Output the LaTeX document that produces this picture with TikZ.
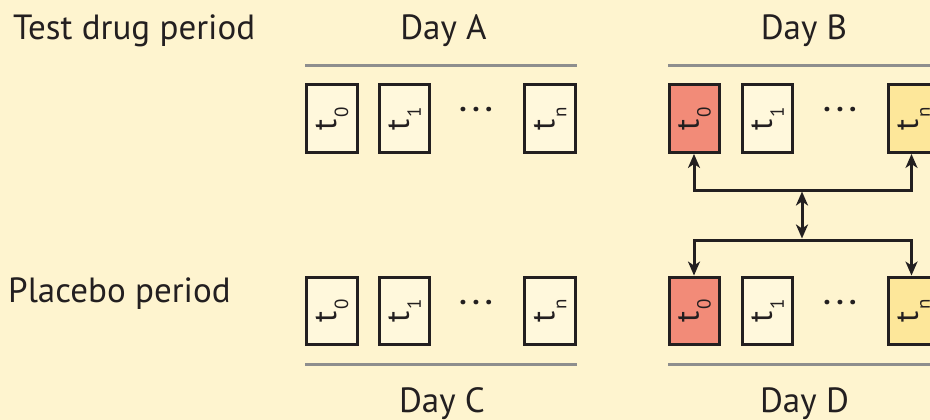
\documentclass[tikz,border=0pt]{standalone}
\usepackage{fontspec}
\setmainfont{PT Sans}
\usetikzlibrary{arrows.meta}
\definecolor{bg}{HTML}{FEF4CF}
\definecolor{boxfill}{HTML}{FFF8DC}
\definecolor{redfill}{HTML}{F28B78}
\definecolor{yelfill}{HTML}{FDE79A}
\definecolor{ink}{HTML}{231F20}
\definecolor{rule}{HTML}{8E8E8E}
\newcommand{\tlab}[1]{\rotatebox{90}{t\hspace{1.5pt}\raisebox{-12pt}{\fontsize{19}{19}\selectfont #1}}}
\tikzset{
  tbox/.style={draw=ink, line width=3.4pt, fill=boxfill, minimum width=50.5pt, minimum height=67.5pt, inner sep=0pt, text=ink, font=\fontsize{33}{33}\selectfont},
  redbox/.style={tbox, fill=redfill},
  yelbox/.style={tbox, fill=yelfill},
  lab/.style={text=ink, font=\fontsize{35}{40}\selectfont, inner sep=0pt},
  sep/.style={draw=rule, line width=3pt},
  conn/.style={draw=ink, line width=3pt, {Stealth[length=14pt,width=12pt,inset=4pt]}-{Stealth[length=14pt,width=12pt,inset=4pt]}},
  dots/.style={text=ink, font=\fontsize{30}{30}\selectfont\bfseries, inner sep=0pt, anchor=base}
}
\newcommand{\threedots}{.\hspace{5.5pt}.\hspace{5.5pt}.}
\begin{document}
\begin{tikzpicture}[x=1pt,y=-1pt]
\useasboundingbox (0,0) rectangle (930,420);
\clip (0,0) rectangle (930,420);
\fill[bg] (0,0) rectangle (930,420);
% labels
\node[lab, anchor=base west] (ltest) at (13,40) {Test drug period};
\node[lab, anchor=base west] (lplac) at (8,302) {Placebo period};
\node[lab, anchor=base] (dA) at (443.5,40) {Day A};
\node[lab, anchor=base] (dB) at (804,40) {Day B};
\node[lab, anchor=base] (dC) at (442,412) {Day C};
\node[lab, anchor=base] (dD) at (804.5,412) {Day D};
% rules
\coordinate (rA1) at (305,66); \coordinate (rA2) at (577,66);
\coordinate (rB1) at (668,66); \coordinate (rB2) at (945,66);
\coordinate (rC1) at (305,364); \coordinate (rC2) at (577,364);
\coordinate (rD1) at (668,364); \coordinate (rD2) at (945,364);
\draw[sep] (rA1) -- (rA2);
\draw[sep] (rB1) -- (rB2);
\draw[sep] (rC1) -- (rC2);
\draw[sep] (rD1) -- (rD2);
% Day A
\node[tbox] (a0) at (332,118.5) {\tlab{0}};
\node[tbox] (a1) at (404.5,118.5) {\tlab{1}};
\node[dots] (adots) at (476,112) {\threedots};
\node[tbox] (an) at (550,118.5) {\tlab{n}};
% Day B
\node[redbox] (b0) at (694.5,118.5) {\tlab{0}};
\node[tbox] (b1) at (767.5,118.5) {\tlab{1}};
\node[dots] (bdots) at (840,112) {\threedots};
\node[yelbox] (bn) at (913.5,118.5) {\tlab{n}};
% Day C
\node[tbox] (c0) at (332,311) {\tlab{0}};
\node[tbox] (c1) at (404.5,311) {\tlab{1}};
\node[dots] (cdots) at (476,304) {\threedots};
\node[tbox] (cn) at (550,311) {\tlab{n}};
% Day D
\node[redbox] (d0) at (694.5,311) {\tlab{0}};
\node[tbox] (d1) at (767.5,311) {\tlab{1}};
\node[dots] (ddots) at (840,304) {\threedots};
\node[yelbox] (dn) at (913.5,311) {\tlab{n}};
% connectors
\coordinate (jt) at (802,190);
\coordinate (jb) at (802,240);
\draw[conn] ([xshift=-0.5pt]b0.south) |- (jt) -| ([xshift=-2pt]bn.south);
\draw[conn] ([xshift=-0.5pt]d0.north) |- (jb) -| ([xshift=-2pt]dn.north);
\draw[conn, shorten <=1.5pt, shorten >=1.5pt] (jt) -- (jb);
\end{tikzpicture}
\end{document}
